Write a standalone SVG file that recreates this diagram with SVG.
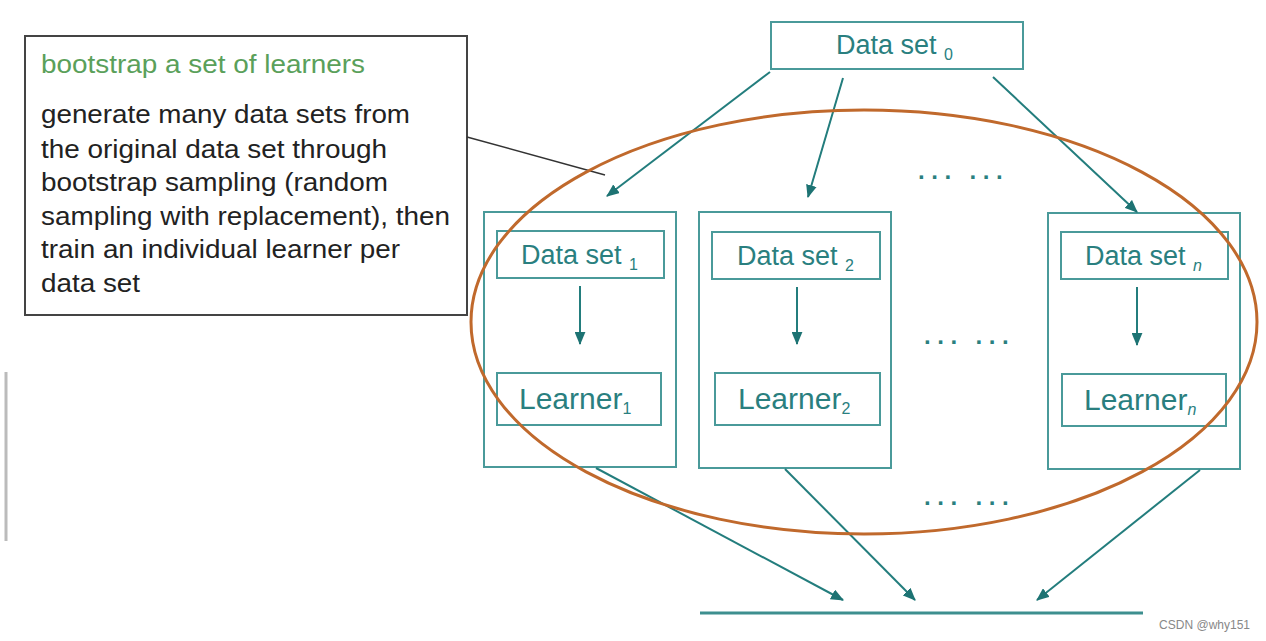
<svg xmlns="http://www.w3.org/2000/svg" width="1266" height="641" viewBox="0 0 1266 641">
<defs>
<style>
.box{fill:none;stroke:#4a9a9a;stroke-width:2}
.lbl{font-family:"Liberation Sans",Arial,sans-serif;fill:#2a7f7f}
.ds{font-size:27px}
.ln{font-size:30px}
.sub{font-size:16px}
.arr{stroke:#237d7d;stroke-width:2;fill:none;marker-end:url(#ah)}
.dots{font-family:"Liberation Sans",Arial,sans-serif;font-size:24px;font-weight:bold;fill:#2a7f7f}
.body{font-family:"Liberation Sans",Arial,sans-serif;font-size:25px;fill:#222}
</style>
<marker id="ah" viewBox="0 0 12 10" refX="11" refY="5" markerWidth="13" markerHeight="11" markerUnits="userSpaceOnUse" orient="auto">
<path d="M0,0 L12,5 L0,10 Z" fill="#1d7373"/>
</marker>
</defs>
<rect width="1266" height="641" fill="#ffffff"/>
<line x1="6" y1="372" x2="6" y2="541" stroke="#bbbbbb" stroke-width="3"/>

<g id="callout">
<rect x="25" y="36" width="442" height="279" fill="#ffffff" stroke="#444444" stroke-width="2"/>
<text x="41" y="73" font-family="Liberation Sans,Arial,sans-serif" font-size="25" fill="#5aa05a" textLength="324" lengthAdjust="spacingAndGlyphs">bootstrap a set of learners</text>
<text class="body" x="41" y="123" textLength="369" lengthAdjust="spacingAndGlyphs">generate many data sets from</text>
<text class="body" x="41" y="158" textLength="346" lengthAdjust="spacingAndGlyphs">the original data set through</text>
<text class="body" x="41" y="191" textLength="347" lengthAdjust="spacingAndGlyphs">bootstrap sampling (random</text>
<text class="body" x="41" y="225" textLength="409" lengthAdjust="spacingAndGlyphs">sampling with replacement), then</text>
<text class="body" x="41" y="258" textLength="359" lengthAdjust="spacingAndGlyphs">train an individual learner per</text>
<text class="body" x="41" y="292" textLength="99" lengthAdjust="spacingAndGlyphs">data set</text>
<line x1="467" y1="137" x2="605" y2="175" stroke="#333333" stroke-width="1.5"/>
</g>

<g id="dataset0">
<rect class="box" x="771" y="22" width="252" height="47"/>
<text class="lbl ds" x="836" y="54">Data set <tspan class="sub" dy="6">0</tspan></text>
</g>

<g id="group1">
<rect class="box" x="484" y="212" width="192" height="255"/>
<g id="dataset1">
<rect class="box" x="497" y="231" width="167" height="47"/>
<text class="lbl ds" x="521" y="264">Data set <tspan class="sub" dy="6">1</tspan></text>
</g>
<g id="learner1">
<rect class="box" x="497" y="373" width="164" height="52"/>
<text class="lbl ln" x="519" y="409">Learner<tspan class="sub" dy="5">1</tspan></text>
</g>
</g>

<g id="group2">
<rect class="box" x="699" y="212" width="192" height="256"/>
<g id="dataset2">
<rect class="box" x="712" y="232" width="168" height="47"/>
<text class="lbl ds" x="737" y="265">Data set <tspan class="sub" dy="6">2</tspan></text>
</g>
<g id="learner2">
<rect class="box" x="715" y="373" width="165" height="52"/>
<text class="lbl ln" x="738" y="409">Learner<tspan class="sub" dy="5">2</tspan></text>
</g>
</g>

<g id="groupn">
<rect class="box" x="1048" y="213" width="192" height="256"/>
<g id="datasetn">
<rect class="box" x="1061" y="232" width="167" height="47"/>
<text class="lbl ds" x="1085" y="265">Data set <tspan class="sub" font-style="italic" dy="6">n</tspan></text>
</g>
<g id="learnern">
<rect class="box" x="1062" y="374" width="164" height="52"/>
<text class="lbl ln" x="1084" y="410">Learner<tspan class="sub" font-style="italic" dy="5">n</tspan></text>
</g>
</g>

<g id="dots">
<text class="dots" x="918" y="185" textLength="86" lengthAdjust="spacing">··· ···</text>
<text class="dots" x="924" y="350" textLength="86" lengthAdjust="spacing">··· ···</text>
<text class="dots" x="924" y="511" textLength="86" lengthAdjust="spacing">··· ···</text>
</g>

<g id="connectors">
<line class="arr" x1="770" y1="72" x2="607" y2="196"/>
<line class="arr" x1="843" y1="78" x2="808" y2="197"/>
<line class="arr" x1="993" y1="77" x2="1137" y2="212"/>
<line class="arr" x1="580" y1="286" x2="580" y2="344"/>
<line class="arr" x1="797" y1="287" x2="797" y2="344"/>
<line class="arr" x1="1137" y1="287" x2="1137" y2="345"/>
<line class="arr" x1="596" y1="468" x2="843" y2="600"/>
<line class="arr" x1="785" y1="469" x2="915" y2="600"/>
<line class="arr" x1="1200" y1="470" x2="1037" y2="600"/>
</g>

<g id="output">
<line x1="700" y1="613" x2="1143" y2="613" stroke="#3d8f8f" stroke-width="3"/>
</g>

<g id="ellipse">
<ellipse cx="864" cy="322" rx="393" ry="212" fill="none" stroke="#c0692c" stroke-width="3"/>
</g>

<text x="1250" y="629" text-anchor="end" font-family="Liberation Sans,Arial,sans-serif" font-size="12" fill="#888888">CSDN @why151</text>
</svg>
